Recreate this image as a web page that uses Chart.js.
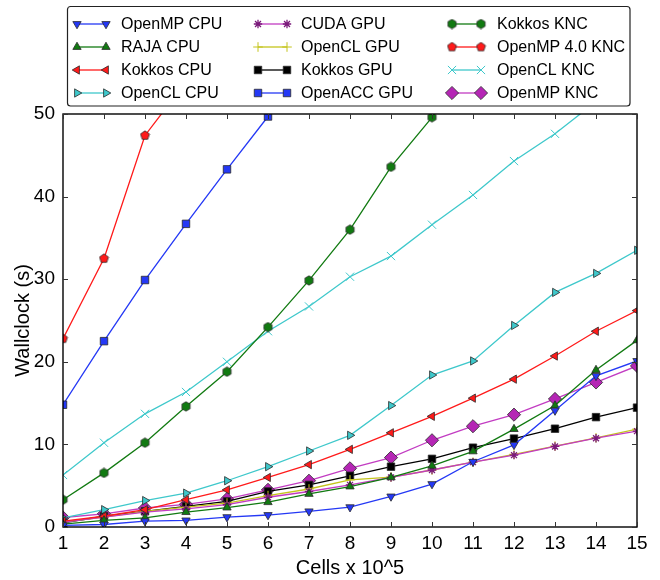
<!DOCTYPE html>
<html>
<head>
<meta charset="utf-8">
<title>Wallclock vs cells</title>
<script src="https://cdn.jsdelivr.net/npm/chart.js@4/dist/chart.umd.min.js"></script>
<style>
    html, body { margin: 0; padding: 0; background: #fff; }
    canvas { display: block; }
</style>
</head>
<body>
<canvas id="chart" width="660" height="580"></canvas>
<script>
// Cells x 10^5
const cells = [1, 2, 3, 4, 5, 6, 7, 8, 9, 10, 11, 12, 13, 14, 15];
const yTicks = [0, 10, 20, 30, 40, 50];

// Wallclock (s)
const openmpCpu   = [0.2, 0.3, 0.7, 0.8, 1.2, 1.45, 1.9, 2.4, 3.7, 5.2, 7.9, 9.95, 14.1, 18.3, 20.1];
const rajaCpu     = [0.35, 0.8, 1.1, 1.8, 2.35, 3.0, 4.0, 4.9, 6.0, 7.4, 9.15, 11.85, 14.7, 19.0, 22.6];
const kokkosCpu   = [0.7, 1.3, 2.1, 3.3, 4.5, 6.0, 7.55, 9.4, 11.4, 13.4, 15.6, 17.9, 20.7, 23.7, 26.2];
const openclCpu   = [1.1, 2.1, 3.2, 4.1, 5.6, 7.3, 9.2, 11.1, 14.7, 18.4, 20.1, 24.4, 28.4, 30.7, 33.5];
const cudaGpu     = [0.6, 1.2, 1.8, 2.2, 2.7, 3.6, 4.3, 5.1, 6.0, 6.9, 7.85, 8.7, 9.75, 10.75, 11.6];
const openclGpu   = [0.6, 1.2, 1.9, 2.4, 2.9, 3.8, 4.6, 5.7, 6.05, 6.9, 7.85, 8.8, 9.8, 10.8, 11.85];
const kokkosGpu   = [0.5, 1.3, 1.9, 2.5, 3.1, 4.3, 5.1, 6.2, 7.3, 8.25, 9.6, 10.7, 11.9, 13.3, 14.45];
const openaccGpu  = [14.8, 22.5, 29.9, 36.7, 43.3, 49.7];
const kokkosKnc   = [3.3, 6.55, 10.2, 14.6, 18.8, 24.2, 29.85, 36.0, 43.6, 49.6];
const openmp40Knc = [22.8, 32.5, 47.4, 53.9];
const openclKnc   = [6.3, 10.2, 13.7, 16.35, 20.0, 23.7, 26.7, 30.3, 32.8, 36.6, 40.2, 44.3, 47.6, 51.5];
const openmpKnc   = [1.15, 1.6, 2.3, 2.75, 3.4, 4.5, 5.6, 7.1, 8.4, 10.5, 12.2, 13.6, 15.5, 17.5, 19.5];

const FONT = '"Liberation Sans", Arial, Helvetica, sans-serif';
const EDGE = '#2a2a2a';

const BLUE = '#2438f5';
const GREEN = '#117a11';
const RED = '#ff1a1a';
const CYAN = '#3ec8cb';
const MAGENTA = '#c23cc2';
const YELLOW = '#c4c41c';
const BLACK = '#000000';

// pentagon / hexagon markers as small canvases
function polygonMarker(sides, fill, size) {
    const c = document.createElement('canvas');
    c.width = size;
    c.height = size;
    const g = c.getContext('2d');
    const r = size / 2 - 0.8;
    g.beginPath();
    for (let i = 0; i < sides; i++) {
        const a = -Math.PI / 2 + i * 2 * Math.PI / sides;
        const px = size / 2 + r * Math.cos(a);
        const py = size / 2 + r * Math.sin(a);
        if (i === 0) g.moveTo(px, py); else g.lineTo(px, py);
    }
    g.closePath();
    g.fillStyle = fill;
    g.fill();
    g.lineWidth = 0.8;
    g.strokeStyle = EDGE;
    g.stroke();
    return c;
}

function series(label, values, color, style, extra) {
    return Object.assign({
        label: label,
        data: values.map((v, i) => ({ x: cells[i], y: v })),
        borderColor: color,
        backgroundColor: color,
        borderWidth: 1.3,
        tension: 0,
        pointStyle: style,
        pointRadius: 4.8,
        pointBackgroundColor: color,
        pointBorderColor: EDGE,
        pointBorderWidth: 0.8,
        pointRotation: 0
    }, extra || {});
}

// legend column order (column by column)
const datasets = [
    series('OpenMP CPU', openmpCpu, BLUE, 'triangle', { pointRotation: 180 }),
    series('RAJA CPU', rajaCpu, GREEN, 'triangle'),
    series('Kokkos CPU', kokkosCpu, RED, 'triangle', { pointRotation: 270 }),
    series('OpenCL CPU', openclCpu, CYAN, 'triangle', { pointRotation: 90 }),
    series('CUDA GPU', cudaGpu, MAGENTA, 'star', { pointRadius: 4.2, pointBorderColor: '#7a1a7a', pointBorderWidth: 1.3 }),
    series('OpenCL GPU', openclGpu, YELLOW, 'cross', { pointRadius: 4.8, pointBorderColor: YELLOW, pointBorderWidth: 1 }),
    series('Kokkos GPU', kokkosGpu, BLACK, 'rect', { pointRadius: 5.3 }),
    series('OpenACC GPU', openaccGpu, BLUE, 'rect', { pointRadius: 5.3 }),
    series('Kokkos KNC', kokkosKnc, GREEN, polygonMarker(6, GREEN, 11)),
    series('OpenMP 4.0 KNC', openmp40Knc, RED, polygonMarker(5, RED, 11)),
    series('OpenCL KNC', openclKnc, CYAN, 'crossRot', { pointRadius: 5.8, pointBorderColor: CYAN, pointBorderWidth: 1 }),
    series('OpenMP KNC', openmpKnc, MAGENTA, 'rectRot', { pointRadius: 6.6, pointBackgroundColor: '#b526b5' })
];

// Boxed legend, 3 columns x 4 rows, two markers per sample line
const boxLegend = {
    id: 'boxLegend',
    afterDraw(chart) {
        const ctx = chart.ctx;
        ctx.save();
        ctx.lineWidth = 1.2;
        ctx.strokeStyle = '#222';
        ctx.beginPath();
        ctx.roundRect(67.5, 6.5, 562.5, 99.5, 3);
        ctx.stroke();

        const lineX = [77, 258, 452];
        const textX = [121, 301, 497];
        const rowY = [24, 47, 70, 93];
        ctx.font = '16px ' + FONT;
        ctx.textBaseline = 'middle';
        ctx.textAlign = 'left';
        chart.data.datasets.forEach((ds, i) => {
            const col = Math.floor(i / 4);
            const row = i % 4;
            const x0 = lineX[col];
            const x1 = x0 + 29;
            const y = rowY[row];
            ctx.strokeStyle = ds.borderColor;
            ctx.lineWidth = ds.borderWidth;
            ctx.beginPath();
            ctx.moveTo(x0, y);
            ctx.lineTo(x1, y);
            ctx.stroke();
            [x0, x1].forEach(px => {
                ctx.fillStyle = ds.pointBackgroundColor;
                ctx.strokeStyle = ds.pointBorderColor;
                ctx.lineWidth = ds.pointBorderWidth;
                Chart.helpers.drawPoint(ctx, {
                    pointStyle: ds.pointStyle,
                    radius: ds.pointRadius,
                    rotation: ds.pointRotation,
                    borderWidth: ds.pointBorderWidth
                }, px, y);
            });
            ctx.fillStyle = '#000';
            ctx.fillText(ds.label, textX[col], y + 1);
        });
        ctx.restore();
    }
};

// Frame with inward tick marks on all four sides
const frame = {
    id: 'frame',
    afterDraw(chart) {
        const { ctx, chartArea: a, scales } = chart;
        ctx.save();
        ctx.strokeStyle = '#000';
        ctx.lineWidth = 1.4;
        ctx.strokeRect(a.left, a.top, a.right - a.left, a.bottom - a.top);
        ctx.lineWidth = 1;
        ctx.strokeStyle = '#333';
        const len = 5;
        ctx.beginPath();
        scales.x.ticks.forEach(t => {
            const px = Math.round(scales.x.getPixelForValue(t.value)) + 0.5;
            ctx.moveTo(px, a.bottom); ctx.lineTo(px, a.bottom - len);
            ctx.moveTo(px, a.top); ctx.lineTo(px, a.top + len);
        });
        scales.y.ticks.forEach(t => {
            const py = Math.round(scales.y.getPixelForValue(t.value)) + 0.5;
            ctx.moveTo(a.left, py); ctx.lineTo(a.left + len, py);
            ctx.moveTo(a.right, py); ctx.lineTo(a.right - len, py);
        });
        ctx.stroke();
        ctx.restore();
    }
};

new Chart(document.getElementById('chart'), {
    type: 'line',
    data: { datasets: datasets },
    options: {
        responsive: false,
        animation: false,
        layout: { padding: { top: 114, right: 23, left: 11, bottom: 0 } },
        plugins: {
            legend: { display: false },
            tooltip: { enabled: false }
        },
        scales: {
            x: {
                type: 'linear',
                min: cells[0],
                max: cells[cells.length - 1],
                afterBuildTicks: scale => { scale.ticks = cells.map(v => ({ value: v })); },
                ticks: { color: '#000', font: { family: FONT, size: 19 }, padding: 5, maxRotation: 0 },
                grid: { display: false, drawTicks: false },
                border: { display: false },
                title: { display: true, text: 'Cells x 10^5', color: '#000', font: { family: FONT, size: 20 }, padding: 0 },
                afterFit: scale => { scale.height = 53; }
            },
            y: {
                min: yTicks[0],
                max: yTicks[yTicks.length - 1],
                afterBuildTicks: scale => { scale.ticks = yTicks.map(v => ({ value: v })); },
                ticks: { color: '#000', font: { family: FONT, size: 19 }, padding: 8 },
                grid: { display: false, drawTicks: false },
                border: { display: false },
                title: { display: true, text: 'Wallclock (s)', color: '#000', font: { family: FONT, size: 20 }, padding: 0 },
                afterFit: scale => { scale.width = 52; }
            }
        }
    },
    plugins: [frame, boxLegend]
});
</script>
</body>
</html>
